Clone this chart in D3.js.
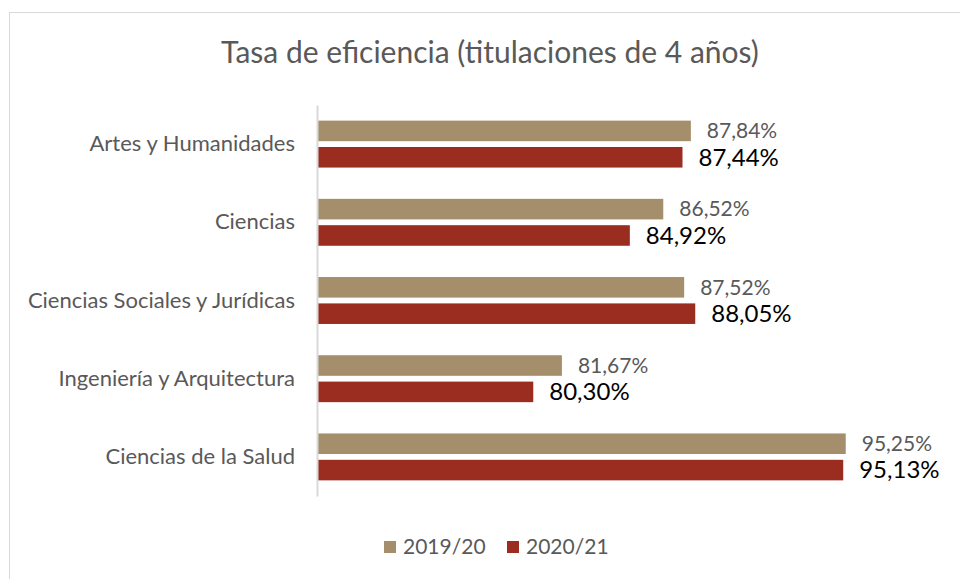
<!DOCTYPE html>
<html><head><meta charset="utf-8">
<script src="https://cdn.jsdelivr.net/npm/d3@7"></script>
<style>html,body{margin:0;padding:0;background:#fff;}svg{display:block;}</style>
</head><body>
<svg id="chart" width="960" height="579"></svg>
<script>
const categories = ["Artes y Humanidades","Ciencias","Ciencias Sociales y Jurídicas","Ingeniería y Arquitectura","Ciencias de la Salud"];
const seriesNames = ["2019/20","2020/21"];
const values2019 = [87.84, 86.52, 87.52, 81.67, 95.25];
const values2021 = [87.44, 84.92, 88.05, 80.30, 95.13];
const labels2019 = ["87,84%","86,52%","87,52%","81,67%","95,25%"];
const labels2021 = ["87,44%","84,92%","88,05%","80,30%","95,13%"];
const colors = ["#a58e6b","#9b2c20"];
const title = "Tasa de eficiencia (titulaciones de 4 años)";

const font = "Lato, sans-serif";
const svg = d3.select("#chart");
svg.append("rect").attr("x",9.5).attr("y",12.5).attr("width",960).attr("height",600)
  .attr("fill","#fff").attr("stroke","#d9d9d9").attr("stroke-width",1);

svg.append("text").attr("x",490).attr("y",63).attr("text-anchor","middle")
  .attr("font-family",font).attr("font-size",30).attr("fill","#595959").text(title);

const x = d3.scaleLinear().domain([70,100]).range([318,945]);
const y = d3.scaleBand().domain(categories).range([105,496]).paddingInner(0.4).paddingOuter(0.2);
const ySub = d3.scaleBand().domain(seriesNames).range([0,y.bandwidth()]).paddingInner(0.22);

const data = categories.map((c,i)=>({cat:c, vals:[values2019[i],values2021[i]], labs:[labels2019[i],labels2021[i]]}));

const g = svg.append("g");
data.forEach(d=>{
  d.vals.forEach((v,j)=>{
    const yy = y(d.cat)+ySub(seriesNames[j]);
    g.append("rect").attr("x",x(70)).attr("y",yy).attr("width",x(v)-x(70)).attr("height",ySub.bandwidth())
      .attr("fill",colors[j]);
    g.append("text").attr("x",x(v)+16).attr("y",yy+ySub.bandwidth()/2)
      .attr("dy","0.35em").attr("font-family",font)
      .attr("font-size",j===0?21:24).attr("fill",j===0?"#595959":"#000").text(d.labs[j]);
  });
});

const yAxis = d3.axisLeft(y).tickSize(0).tickPadding(22);
const ax = svg.append("g").attr("transform",`translate(${x(70)-1},0)`).call(yAxis);
ax.select(".domain").attr("stroke","#d9d9d9").attr("stroke-width",2);
ax.selectAll("text").attr("font-family",font).attr("font-size",22).attr("fill","#595959");

const lg = svg.append("g");
const legX = [384,507];
seriesNames.forEach((s,i)=>{
  lg.append("rect").attr("x",legX[i]).attr("y",541).attr("width",12).attr("height",12).attr("fill",colors[i]);
  lg.append("text").attr("x",legX[i]+19).attr("y",547).attr("dy","0.35em").attr("font-family",font)
    .attr("font-size",21).attr("fill","#595959").text(s);
});
</script>
</body></html>
